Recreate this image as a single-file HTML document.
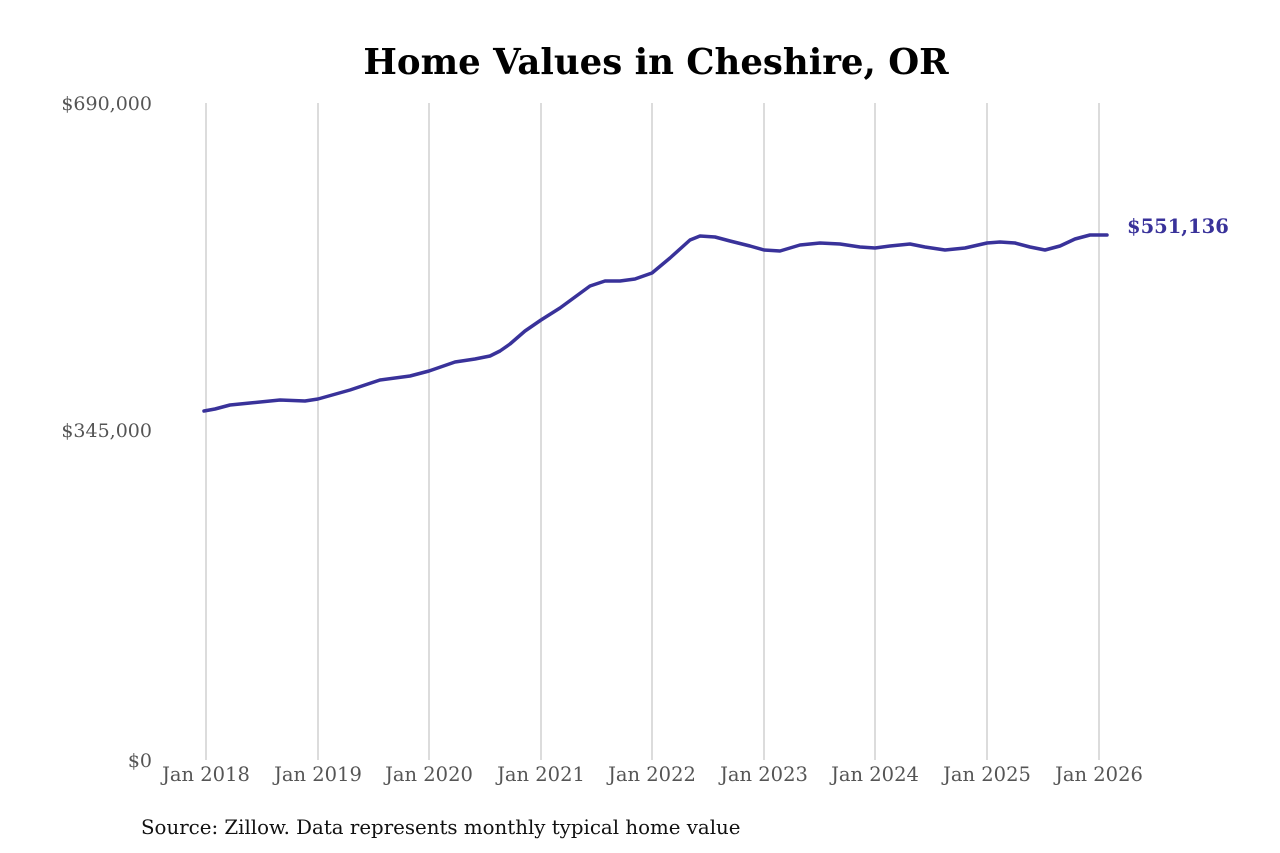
<!DOCTYPE html>
<html><head><style>
body{margin:0;background:#fff;}
svg{display:block;}
text{font-family:"DejaVu Serif","Liberation Serif",serif;}
</style></head><body>
<svg width="1280" height="853" viewBox="0 0 1280 853">
<rect width="1280" height="853" fill="#fff"/>
<text x="656" y="74" text-anchor="middle" font-size="35.5" font-weight="bold" fill="#000">Home Values in Cheshire, OR</text>
<g stroke="#b8b8b8" stroke-width="1">
<line x1="206" y1="103" x2="206" y2="760"/><line x1="318" y1="103" x2="318" y2="760"/>
<line x1="429" y1="103" x2="429" y2="760"/><line x1="541" y1="103" x2="541" y2="760"/>
<line x1="652" y1="103" x2="652" y2="760"/><line x1="764" y1="103" x2="764" y2="760"/>
<line x1="875" y1="103" x2="875" y2="760"/><line x1="987" y1="103" x2="987" y2="760"/>
<line x1="1099" y1="103" x2="1099" y2="760"/>
</g>
<g font-size="19" fill="#555" text-anchor="end">
<text x="152" y="110">$690,000</text>
<text x="152" y="437">$345,000</text>
<text x="152" y="767">$0</text>
</g>
<g font-size="19.5" fill="#555" text-anchor="middle">
<text x="206" y="781">Jan 2018</text><text x="318" y="781">Jan 2019</text>
<text x="429" y="781">Jan 2020</text><text x="541" y="781">Jan 2021</text>
<text x="652" y="781">Jan 2022</text><text x="764" y="781">Jan 2023</text>
<text x="875" y="781">Jan 2024</text><text x="987" y="781">Jan 2025</text>
<text x="1099" y="781">Jan 2026</text>
</g>
<polyline fill="none" stroke="#39329a" stroke-width="3.5" stroke-linejoin="round" stroke-linecap="round"
points="204,411 215,409 230,405 250,403 280,400 305,401 318,399 350,390 380,380 410,376 429,371 455,362 475,359 490,356 500,351 510,344 525,331 541,320 560,308 575,297 590,286 605,281 620,281 635,279 652,273 670,258 690,240 700,236 715,237 730,241 750,246 764,250 780,251 800,245 820,243 840,244 860,247 875,248 890,246 910,244 925,247 945,250 965,248 987,243 1000,242 1015,243 1030,247 1045,250 1060,246 1075,239 1090,235 1107,235"/>
<text x="1127" y="233" font-size="19.5" font-weight="bold" fill="#39329a">$551,136</text>
<text x="141" y="834" font-size="19.8" fill="#111">Source: Zillow. Data represents monthly typical home value</text>
</svg>
</body></html>
